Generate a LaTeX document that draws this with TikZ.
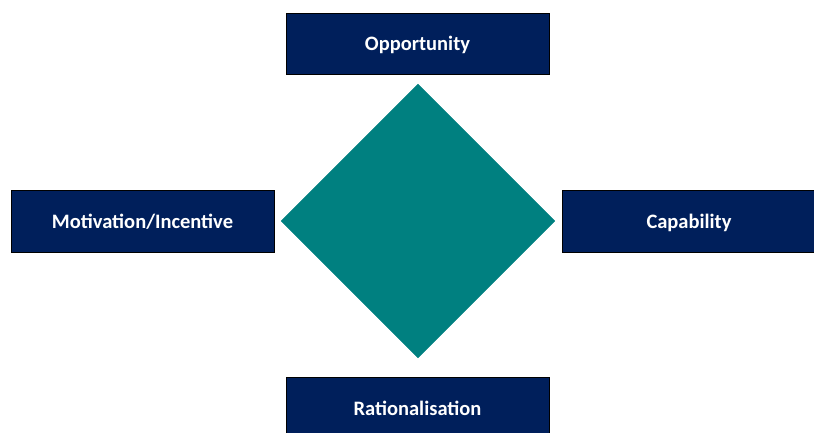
\documentclass[tikz,border=0pt]{standalone}
\usepackage{fontspec}
\setmainfont{Carlito}
\usetikzlibrary{shapes.geometric}
\definecolor{navy}{HTML}{001F5B}
\definecolor{tealc}{HTML}{008080}
\begin{document}
\begin{tikzpicture}[x=1pt,y=1pt,
  box font/.style={font=\bfseries\fontsize{20.5}{24}\selectfont, text=white,
    text height=15pt, text depth=0pt},
  label box/.style={draw=black, line width=0.8pt, fill=navy, box font,
    minimum width=263pt, minimum height=61pt, inner sep=0pt, anchor=center}]
\useasboundingbox (0,0) rectangle (814,432);
\clip (0,0) rectangle (814,432);
\node[diamond, aspect=1, fill=tealc, draw=tealc, inner sep=0pt,
  minimum width=274pt, minimum height=274pt] (core) at (418,211) {};
\node[label box] (opp) at (417.5,388.5) {Opportunity};
\node[label box, minimum height=62pt] (mot) at (142.5,211) {Motivation/Incentive};
\node[label box, minimum height=62pt] (cap) at (693.5,211) {};
\node[box font, inner sep=0pt] (captext) at (689,211) {Capability};
\node[label box] (rat) at (417.5,24.5) {Rationalisation};
\end{tikzpicture}
\end{document}
